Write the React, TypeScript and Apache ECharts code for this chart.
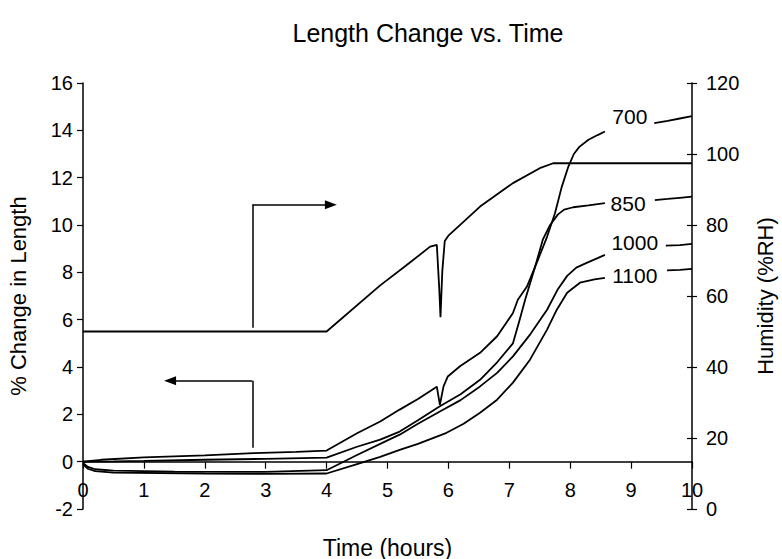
import React, { useEffect, useRef } from "react";
import * as echarts from "echarts";

// ---- data (time in hours, % change in length) ----
const t700 = [0, 0.3, 1, 2, 2.8, 3.5, 4, 4.5, 4.88, 5.2, 5.5, 5.81, 5.86, 5.92, 5.99, 6.19, 6.52, 6.8, 7.06, 7.14, 7.29, 7.45, 7.62, 7.75, 7.86, 7.97, 8.06, 8.15, 8.3, 8.45, 8.57];
const v700 = [0, 0.08, 0.18, 0.27, 0.36, 0.41, 0.47, 1.2, 1.7, 2.2, 2.65, 3.17, 2.4, 3.18, 3.6, 4.03, 4.6, 5.3, 6.28, 6.84, 7.4, 8.4, 9.5, 10.5, 11.6, 12.47, 13.0, 13.3, 13.6, 13.8, 13.95];

const t850 = [0, 0.5, 1, 2, 3, 4, 4.5, 4.88, 5.2, 5.5, 5.86, 6.2, 6.52, 6.8, 7.06, 7.16, 7.26, 7.42, 7.55, 7.67, 7.8, 7.9, 8.05, 8.3, 8.57];
const v850 = [0, 0.01, 0.03, 0.08, 0.12, 0.17, 0.63, 0.93, 1.27, 1.75, 2.34, 2.85, 3.46, 4.2, 5.0, 5.9, 6.84, 8.2, 9.38, 10.0, 10.45, 10.65, 10.75, 10.83, 10.92];

const t1000 = [0, 0.08, 0.2, 0.5, 1.5, 3, 4, 4.5, 5.0, 5.2, 5.5, 5.86, 6.2, 6.52, 6.8, 7.06, 7.35, 7.62, 7.8, 7.95, 8.1, 8.27, 8.45, 8.57];
const v1000 = [-0.05, -0.22, -0.32, -0.38, -0.42, -0.43, -0.36, 0.28, 0.9, 1.14, 1.6, 2.12, 2.6, 3.18, 3.75, 4.45, 5.4, 6.42, 7.3, 7.85, 8.2, 8.4, 8.6, 8.74];

const t1100 = [0, 0.08, 0.2, 0.5, 2, 3, 4, 4.5, 4.88, 5.2, 5.5, 5.97, 6.25, 6.52, 6.8, 7.06, 7.34, 7.62, 7.78, 7.95, 8.16, 8.4, 8.57];
const v1100 = [-0.1, -0.3, -0.4, -0.46, -0.5, -0.52, -0.5, -0.1, 0.2, 0.5, 0.75, 1.22, 1.6, 2.07, 2.62, 3.34, 4.31, 5.58, 6.42, 7.14, 7.56, 7.7, 7.77];

// tails to the right of the labels
const t700b = [9.38, 9.6, 9.8, 10];
const v700b = [14.3, 14.4, 14.5, 14.6];
const t850b = [9.39, 9.6, 9.8, 10];
const v850b = [11.05, 11.1, 11.15, 11.2];
const t1000b = [9.57, 9.8, 10];
const v1000b = [9.13, 9.15, 9.2];
const t1100b = [9.59, 9.8, 10];
const v1100b = [8.08, 8.1, 8.15];

// humidity (%RH)
const tRH = [0, 4.0, 4.88, 5.3, 5.7, 5.81, 5.85, 5.87, 5.9, 5.94, 6.0, 6.52, 7.06, 7.5, 7.72, 10];
const vRH = [50, 50, 63, 68.5, 73.9, 74.4, 62, 54, 67, 75.5, 77, 85.2, 91.8, 96, 97.4, 97.4];

// curve labels
const curveNames = ["700", "850", "1000", "1100"];
const labelT = [8.98, 8.95, 9.06, 9.06];
const labelV = [14.58, 10.9, 9.25, 7.86];

// annotation arrows (data coords, left axis)
const arrowRight = { x: 2.78, yBottom: 5.66, yTop: 10.86, xTip: 4.07 };
const arrowLeft = { x: 2.78, yBottom: 0.59, yTop: 3.42, xTip: 1.43 };

const FONT = "'Liberation Sans', Arial, Helvetica, sans-serif";

function pairs(t: number[], v: number[]) {
  return t.map((x, i) => [x, v[i]]);
}

export default function App() {
  const ref = useRef<HTMLDivElement>(null);
  useEffect(() => {
    if (!ref.current) return;
    const chart = echarts.init(ref.current, null, { renderer: "svg" });
    const lineStyle = { color: "#000", width: 1.8 };
    const mains = [
      pairs(t700, v700),
      pairs(t850, v850),
      pairs(t1000, v1000),
      pairs(t1100, v1100),
    ];
    const tails = [
      pairs(t700b, v700b),
      pairs(t850b, v850b),
      pairs(t1000b, v1000b),
      pairs(t1100b, v1100b),
    ];
    const arrowLine = { color: "#000", width: 1.5, type: "solid" as const };
    const series: any[] = [];
    mains.forEach((d, i) => {
      const s: any = {
        type: "line",
        name: curveNames[i],
        data: d,
        yAxisIndex: 0,
        showSymbol: false,
        symbol: "none",
        lineStyle,
        markPoint: {
          symbol: "circle",
          symbolSize: 0,
          silent: true,
          label: {
            show: true,
            position: "inside",
            color: "#000",
            fontSize: 21,
            fontFamily: FONT,
            formatter: curveNames[i],
          },
          data: [{ coord: [labelT[i], labelV[i]], value: curveNames[i] }],
        },
      };
      if (i === 0) {
        s.markLine = {
          silent: true,
          symbol: ["none", "none"],
          symbolSize: [9, 12],
          label: { show: false },
          lineStyle: arrowLine,
          data: [
            [
              { coord: [arrowRight.x, arrowRight.yBottom], symbol: "none" },
              { coord: [arrowRight.x, arrowRight.yTop], symbol: "none" },
            ],
            [
              { coord: [arrowRight.x, arrowRight.yTop], symbol: "none" },
              { coord: [arrowRight.xTip, arrowRight.yTop], symbol: "triangle", symbolSize: [9, 12], symbolRotate: -90 },
            ],
            [
              { coord: [arrowLeft.x, arrowLeft.yBottom], symbol: "none" },
              { coord: [arrowLeft.x, arrowLeft.yTop], symbol: "none" },
            ],
            [
              { coord: [arrowLeft.x, arrowLeft.yTop], symbol: "none" },
              { coord: [arrowLeft.xTip, arrowLeft.yTop], symbol: "triangle", symbolSize: [9, 12], symbolRotate: 90 },
            ],
          ],
        };
      }
      series.push(s);
    });
    tails.forEach((d, i) => {
      series.push({
        type: "line",
        name: curveNames[i] + " tail",
        data: d,
        yAxisIndex: 0,
        showSymbol: false,
        symbol: "none",
        lineStyle,
      });
    });
    series.push({
      type: "line",
      name: "Humidity",
      data: pairs(tRH, vRH),
      yAxisIndex: 1,
      showSymbol: false,
      symbol: "none",
      lineStyle: { color: "#000", width: 1.8 },
    });

    const axisLabel = { color: "#000", fontSize: 20, fontFamily: FONT };
    chart.setOption({
      animation: false,
      backgroundColor: "#fff",
      textStyle: { fontFamily: FONT },
      graphic: [
        {
          type: "text",
          x: 428,
          y: 20,
          style: {
            text: "Length Change vs. Time",
            fontSize: 25,
            fontFamily: FONT,
            fill: "#000",
            textAlign: "center",
          },
        },
      ],
      grid: { left: 83, right: 90, top: 83, bottom: 50, containLabel: false, outerBoundsMode: "none" },
      xAxis: {
        type: "value",
        min: 0,
        max: 10,
        interval: 1,
        name: "Time (hours)",
        nameLocation: "middle",
        nameGap: 27,
        nameTextStyle: { color: "#000", fontSize: 23, fontFamily: FONT },
        axisLine: { onZero: true, lineStyle: { color: "#000", width: 1.5 } },
        axisTick: { show: true, inside: false, length: 7, lineStyle: { color: "#000", width: 1.2 } },
        axisLabel: { ...axisLabel, margin: -29 },
        splitLine: { show: false },
      },
      yAxis: [
        {
          type: "value",
          position: "left",
          min: -2,
          max: 16,
          interval: 2,
          name: "% Change in Length",
          nameLocation: "middle",
          nameGap: 54,
          nameRotate: 90,
          nameTextStyle: { color: "#000", fontSize: 22, fontFamily: FONT },
          axisLine: { show: true, onZero: false, lineStyle: { color: "#000", width: 1.5 } },
          axisTick: { show: true, inside: false, length: 6, lineStyle: { color: "#000", width: 1.2 } },
          axisLabel: { ...axisLabel, margin: 10 },
          splitLine: { show: false },
        },
        {
          type: "value",
          position: "right",
          min: 0,
          max: 120,
          interval: 20,
          name: "Humidity (%RH)",
          nameLocation: "middle",
          nameGap: 62,
          nameRotate: 90,
          nameTextStyle: { color: "#000", fontSize: 22, fontFamily: FONT },
          axisLine: { show: true, onZero: false, lineStyle: { color: "#000", width: 1.5 } },
          axisTick: { show: true, inside: false, length: 5, lineStyle: { color: "#000", width: 1.2 } },
          axisLabel: { ...axisLabel, margin: 14 },
          splitLine: { show: false },
        },
        {
          type: "value",
          position: "right",
          min: 0,
          max: 120,
          interval: 20,
          axisLine: { show: false, onZero: false },
          axisTick: { show: true, inside: true, length: 5, lineStyle: { color: "#000", width: 1.2 } },
          axisLabel: { show: false },
          splitLine: { show: false },
        },
      ],
      series,
    });
    return () => chart.dispose();
  }, []);
  return <div ref={ref} style={{ width: 782, height: 559, position: "absolute", left: 0, top: 0 }} />;
}
